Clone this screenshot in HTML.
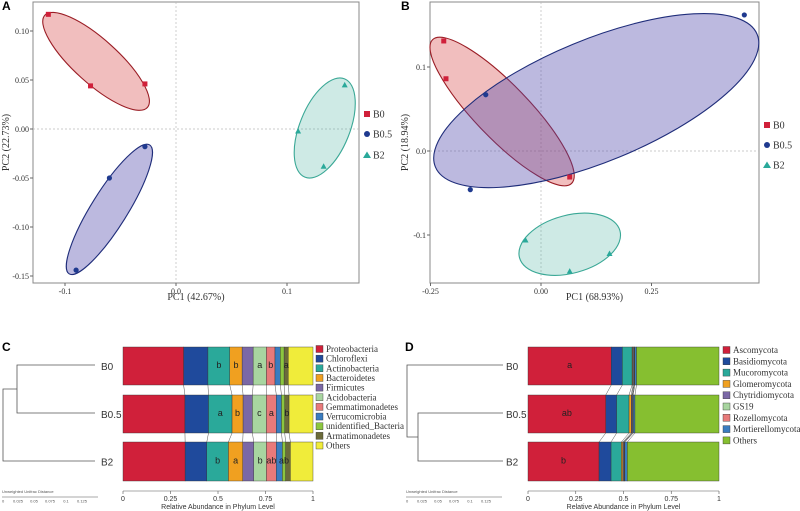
<!DOCTYPE html>
<html><head><meta charset="utf-8"><style>
body{margin:0;background:#fff}
svg{display:block;font-family:"Liberation Serif",serif}
.sans{font-family:"Liberation Sans",sans-serif}
</style></head><body>
<svg id="s" width="800" height="511" xmlns="http://www.w3.org/2000/svg"></svg>
<script>
// ---- PCoA data ----
const groups=["B0","B0.5","B2"];
const aX0=[-0.115,-0.077,-0.028], aY0=[0.117,0.044,0.046];
const aX1=[-0.028,-0.060,-0.090], aY1=[-0.018,-0.050,-0.144];
const aX2=[0.110,0.133,0.152], aY2=[-0.002,-0.038,0.045];
const bX0=[-0.22,-0.215,0.065], bY0=[0.131,0.086,-0.031];
const bX1=[-0.125,-0.16,0.46], bY1=[0.067,-0.046,0.162];
const bX2=[-0.035,0.065,0.155], bY2=[-0.106,-0.143,-0.122];
const aXTicks=[-0.1,0.0,0.1], aXLabels=["-0.1","0.0","0.1"];
const aYTicks=[0.10,0.05,0,-0.05,-0.10,-0.15], aYLabels=["0.10","0.05","0.00","-0.05","-0.10","-0.15"];
const bXTicks=[-0.25,0,0.25], bXLabels=["-0.25","0.00","0.25"];
const bYTicks=[0.1,0,-0.1], bYLabels=["0.1","0.0","-0.1"];
// ---- bar data ----
const phylaC=["Proteobacteria","Chloroflexi","Actinobacteria","Bacteroidetes","Firmicutes","Acidobacteria","Gemmatimonadetes","Verrucomicrobia","unidentified_Bacteria","Armatimonadetes","Others"];
const cB0=[0.319,0.128,0.115,0.065,0.058,0.070,0.045,0.028,0.020,0.022,0.130];
const cB05=[0.326,0.124,0.124,0.058,0.049,0.074,0.052,0.027,0.017,0.023,0.126];
const cB2=[0.327,0.114,0.114,0.075,0.058,0.067,0.052,0.032,0.017,0.025,0.119];
const cLet0=["","","b","b","","a","b","","","a",""];
const cLet05=["","","a","b","","c","a","","","b",""];
const cLet2=["","","b","a","","b","ab","","ab","",""];
const phylaD=["Ascomycota","Basidiomycota","Mucoromycota","Glomeromycota","Chytridiomycota","GS19","Rozellomycota","Mortierellomycota","Others"];
const dB0=[0.436,0.058,0.051,0.004,0.004,0.003,0.003,0.009,0.432];
const dB05=[0.407,0.057,0.065,0.012,0.004,0.003,0.003,0.009,0.440];
const dB2=[0.372,0.063,0.054,0.008,0.004,0.003,0.003,0.013,0.480];
const dLet0=["a"],dLet05=["ab"],dLet2=["b"];
const barTicks=[0,0.25,0.5,0.75,1], barLabels=["0","0.25","0.5","0.75","1"];

const S=document.getElementById('s'),NS="http://www.w3.org/2000/svg";
function el(t,a,p){const e=document.createElementNS(NS,t);for(const k in a)e.setAttribute(k,a[k]);(p||S).appendChild(e);return e;}
function tx(x,y,s,a){const e=el('text',Object.assign({x:x,y:y},a||{}));e.textContent=s;return e;}
const gcol=["#d0203a","#1f3a8f","#2aa99a"],gfill=["rgba(214,70,70,0.35)","rgba(80,70,170,0.38)","rgba(60,170,150,0.25)"],gstroke=["#9a1d25","#1f2d7a","#3aa896"];

function pcoa(o){
  const sx=v=>o.x0+(v-o.dx0)*o.kx, sy=v=>o.y0-(v-o.dy0)*o.ky;
  const g=el('g',{});
  
  
  el('rect',{x:o.L,y:o.T,width:o.R-o.L,height:o.B-o.T,fill:'#fff',stroke:'#888','stroke-width':1},g);
  el('line',{x1:sx(0),x2:sx(0),y1:o.T,y2:o.B,stroke:'#bbb','stroke-dasharray':'2,2','stroke-width':0.7},g);
  el('line',{x1:o.L,x2:o.R,y1:sy(0),y2:sy(0),stroke:'#bbb','stroke-dasharray':'2,2','stroke-width':0.7},g);
  o.ell.forEach((e,i)=>{const cx=sx(e[0]),cy=sy(e[1]);const q=el('ellipse',{cx:cx,cy:cy,rx:e[2],ry:e[3],transform:`rotate(${e[4]} ${cx} ${cy})`,fill:gfill[i],stroke:gstroke[i],'stroke-width':1.1},g);
    });
  o.pts.forEach((p,i)=>{p[0].forEach((xv,j)=>{const X=sx(xv),Y=sy(p[1][j]);let m;
    if(i==0)m=el('rect',{x:X-2.5,y:Y-2.5,width:5,height:5,fill:gcol[0]},g);
    else if(i==1)m=el('circle',{cx:X,cy:Y,r:2.6,fill:gcol[1]},g);
    else m=el('polygon',{points:`${X},${Y-3} ${X-3},${Y+2.5} ${X+3},${Y+2.5}`,fill:gcol[2]},g);
    });});
  o.xt.forEach((v,i)=>{el('line',{x1:sx(v),x2:sx(v),y1:o.B,y2:o.B+3,stroke:'#666'},g);tx(sx(v),o.B+11,o.xl[i],{'font-size':8,'text-anchor':'middle',fill:'#333'});});
  o.yt.forEach((v,i)=>{el('line',{x1:o.L-3,x2:o.L,y1:sy(v),y2:sy(v),stroke:'#666'},g);tx(o.L-4,sy(v)+3,o.yl[i],{'font-size':8,'text-anchor':'end',fill:'#333'});});
  const xt=tx((o.L+o.R)/2,o.B+17,o.xtitle,{'font-size':10,'text-anchor':'middle',fill:'#333'});
  const yt=tx(0,0,o.ytitle,{'font-size':10,'text-anchor':'middle',fill:'#333',transform:`translate(${o.ytx},${(o.T+o.B)/2}) rotate(-90)`});
  groups.forEach((n,i)=>{const y=o.legY[i],x=o.legX;let m;
    if(i==0)m=el('rect',{x:x-3,y:y-3,width:6,height:6,fill:gcol[0]},g);
    else if(i==1)m=el('circle',{cx:x,cy:y,r:3,fill:gcol[1]},g);
    else m=el('polygon',{points:`${x},${y-3.5} ${x-4},${y+3} ${x+4},${y+3}`,fill:gcol[2]},g);
    
    const t=tx(x+6,y+3.5,n,{'font-size':10,fill:'#333'});});
  const L=tx(o.letX,10,o.letter,{'font-size':12,'font-weight':'bold',class:'sans'});
}
pcoa({name:'pcoa-panel-a',L:33,R:359,T:2,B:283,x0:176,dx0:0,kx:1110,y0:129,dy0:0,ky:980,
  ell:[[-0.072,0.069,69,22,42],[-0.060,-0.082,76,18,-58],[0.134,0.001,53,25,-68]],
  pts:[[aX0,aY0],[aX1,aY1],[aX2,aY2]],xt:aXTicks,xl:aXLabels,yt:aYTicks,yl:aYLabels,
  xtitle:'PC1 (42.67%)',ytitle:'PC2 (22.73%)',ytx:9,legX:367,legY:[114,134,155],letX:2,letter:'A'});
pcoa({name:'pcoa-panel-b',L:430,R:759,T:2,B:283,x0:541,dx0:0,kx:442,y0:151,dy0:0,ky:840,
  ell:[[-0.088,0.047,100,27,46],[0.125,0.060,174,61,-22.4],[0.065,-0.111,52,29,-15]],
  pts:[[bX0,bY0],[bX1,bY1],[bX2,bY2]],xt:bXTicks,xl:bXLabels,yt:bYTicks,yl:bYLabels,
  xtitle:'PC1 (68.93%)',ytitle:'PC2 (18.94%)',ytx:408,legX:767,legY:[125,145,165],letX:401,letter:'B'});

const colC=["#d0203a","#1f4a9c","#2aa99a","#f0a020","#7b68a6","#a8d5a0","#e87a7a","#3a7cc0","#8cc63f","#6b6b3a","#f0ec3a"];
const colD=["#d0203a","#1f4a9c","#2aa99a","#f0a020","#7b68a6","#a8d5a0","#e87a7a","#3a7cc0","#86bf30"];
const rows=[[347,385],[395,433],[442,481]];
function bars(o){
  const sx=v=>o.x0+v*o.w;
  const g=el('g',{});
  const bounds=[];
  o.data.forEach((d,r)=>{let c=0;const b=[];const [y1,y2]=rows[r];
    d.forEach((v,k)=>{const R=el('rect',{x:sx(c),y:y1,width:v*o.w,height:y2-y1,fill:o.col[k],stroke:'#333','stroke-width':0.4},g);
      
      const l=o.lets[r][k];if(l){const t=tx(sx(c+v/2),(y1+y2)/2+2,l,{'font-size':9,'text-anchor':'middle',class:'sans',fill:'#222'});}
      c+=v;b.push(c);});bounds.push(b);});
  for(let r=0;r<2;r++)bounds[r].forEach((v,k)=>{if(k<bounds[r].length-1)el('line',{x1:sx(v),y1:rows[r][1],x2:sx(bounds[r+1][k]),y2:rows[r+1][0],stroke:'#555','stroke-width':0.5},g);});
  el('line',{x1:sx(0),x2:sx(1),y1:491,y2:491,stroke:'#555','stroke-width':0.6},g);
  barTicks.forEach((v,i)=>{el('line',{x1:sx(v),x2:sx(v),y1:491,y2:494,stroke:'#555','stroke-width':0.6},g);
    tx(sx(v),501,barLabels[i],{'font-size':7,'text-anchor':'middle',class:'sans',fill:'#333'});});
  tx(sx(0.5),509,'Relative Abundance in Phylum Level',{'font-size':7,'text-anchor':'middle',class:'sans',fill:'#333'});
  o.cats.forEach((c,k)=>{const y=o.legY+k*o.legS;el('rect',{x:o.legX,y:y-3.5,width:7,height:7,fill:o.col[k],stroke:'#333','stroke-width':0.4},g);
    const t=tx(o.legX+10,y+3,c,{'font-size':9,fill:'#333'});});
  o.names.forEach((n,r)=>{const t=tx(o.labX,(rows[r][0]+rows[r][1])/2+4,n,{'font-size':10,class:'sans',fill:'#333'});});
  const p=el('path',{d:o.tree,fill:'none',stroke:'#555','stroke-width':0.8},g);
  tx(o.sbX,493,'Unweighted Unifrac Distance',{'font-size':4,class:'sans',fill:'#555'});
  el('line',{x1:o.sbX,x2:o.sbX+96,y1:497,y2:497,stroke:'#555','stroke-width':0.5},g);
  ["0","0.025","0.05","0.075","0.1","0.125"].forEach((s,i)=>tx(o.sbX+i*16,502.5,s,{'font-size':4,class:'sans',fill:'#555','text-anchor':i?'middle':'start'}));
  const L=tx(o.letX,351,o.letter,{'font-size':12,'font-weight':'bold',class:'sans'});
}
bars({name:'bar-panel-c',x0:123,w:190,data:[cB0,cB05,cB2],lets:[cLet0,cLet05,cLet2],col:colC,cats:phylaC,names:["B0","B0.5","B2"],
  legX:316,legY:349,legS:9.65,labX:101,tree:'M95,365H17V413H95M17,389H3V461H95',sbX:2,letX:2,letter:'C'});
bars({name:'bar-panel-d',x0:528,w:191,data:[dB0,dB05,dB2],lets:[dLet0.concat(Array(8).fill("")),dLet05.concat(Array(8).fill("")),dLet2.concat(Array(8).fill(""))],col:colD,cats:phylaD,names:["B0","B0.5","B2"],
  legX:723,legY:350,legS:11.3,labX:506,tree:'M503,365H407V437H418M503,413H418V461H503',sbX:406,letX:405,letter:'D'});
</script>
</body></html>
